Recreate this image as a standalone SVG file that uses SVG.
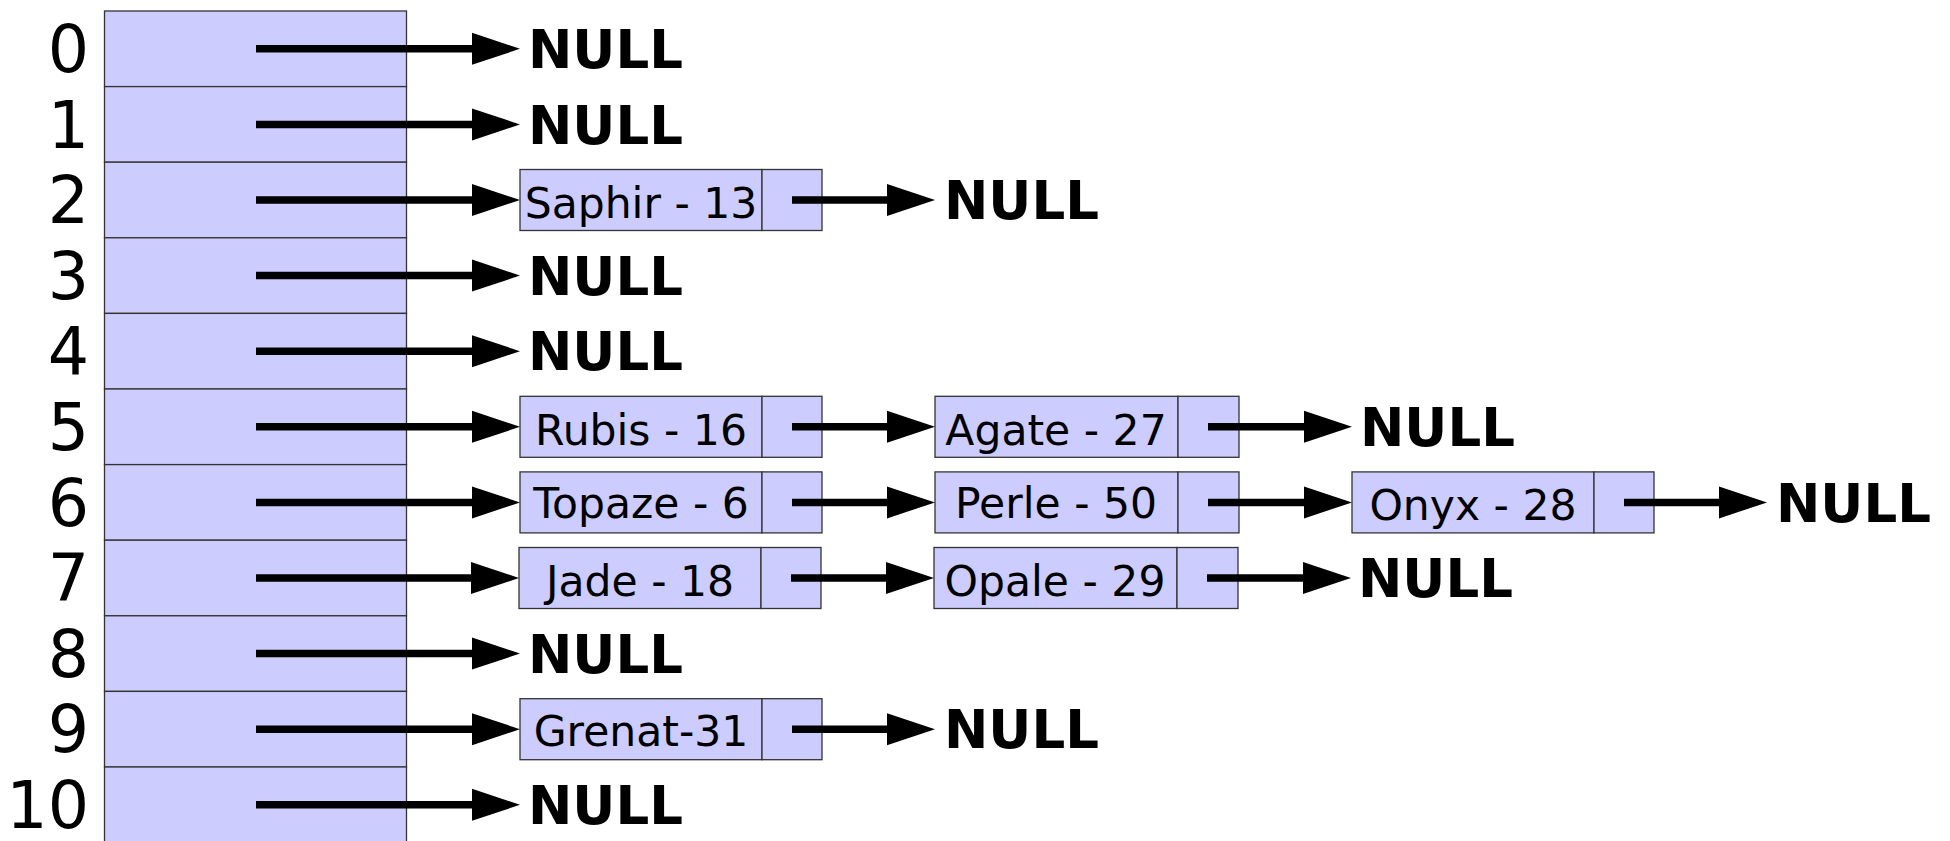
<svg xmlns="http://www.w3.org/2000/svg" width="1950" height="841" viewBox="0 0 1950 841">
<style>
.cell{fill:#ccccff;stroke:#333;stroke-width:1.3}
.idx{font-family:"DejaVu Sans","Liberation Sans",sans-serif;font-size:65px;text-anchor:end;fill:#000}
.null{font-family:"DejaVu Sans","Liberation Sans",sans-serif;font-size:53px;font-weight:bold;fill:#000}
.lbl{font-family:"DejaVu Sans","Liberation Sans",sans-serif;font-size:42.5px;text-anchor:middle;fill:#000}
.ar{stroke:#000;stroke-width:7.5;fill:none;marker-end:url(#ah)}
</style>
<defs>
<marker id="ah" markerUnits="userSpaceOnUse" markerWidth="50" markerHeight="34" refX="3" refY="16" orient="auto" overflow="visible">
<path d="M0,0 L48,16 L0,32 Z" fill="#000"/>
</marker>
</defs>
<rect width="1950" height="841" fill="#fff"/>
<g id="table">
<rect class="cell" x="104.5" y="11" width="302" height="75.6"/>
<rect class="cell" x="104.5" y="86.6" width="302" height="75.6"/>
<rect class="cell" x="104.5" y="162.2" width="302" height="75.6"/>
<rect class="cell" x="104.5" y="237.8" width="302" height="75.6"/>
<rect class="cell" x="104.5" y="313.4" width="302" height="75.6"/>
<rect class="cell" x="104.5" y="389" width="302" height="75.6"/>
<rect class="cell" x="104.5" y="464.6" width="302" height="75.6"/>
<rect class="cell" x="104.5" y="540.2" width="302" height="75.6"/>
<rect class="cell" x="104.5" y="615.8" width="302" height="75.6"/>
<rect class="cell" x="104.5" y="691.4" width="302" height="75.6"/>
<rect class="cell" x="104.5" y="767" width="302" height="80"/>
</g>
<g id="indices">
<text class="idx" x="89" y="72">0</text>
<text class="idx" x="89" y="147.6">1</text>
<text class="idx" x="89" y="223.2">2</text>
<text class="idx" x="89" y="298.8">3</text>
<text class="idx" x="89" y="374.4">4</text>
<text class="idx" x="89" y="450">5</text>
<text class="idx" x="89" y="525.6">6</text>
<text class="idx" x="89" y="601.2">7</text>
<text class="idx" x="89" y="676.8">8</text>
<text class="idx" x="89" y="752.4">9</text>
<text class="idx" x="89" y="828">10</text>
</g>
<g id="node-saphir">
<rect class="cell" x="520" y="169.5" width="242" height="61"/>
<rect class="cell" x="762" y="169.5" width="60" height="61"/>
<text class="lbl" x="641" y="218">Saphir - 13</text>
</g>
<g id="node-rubis">
<rect class="cell" x="520" y="396.3" width="242" height="61"/>
<rect class="cell" x="762" y="396.3" width="60" height="61"/>
<text class="lbl" x="641" y="445">Rubis - 16</text>
</g>
<g id="node-agate">
<rect class="cell" x="935" y="396.3" width="243" height="61"/>
<rect class="cell" x="1178" y="396.3" width="61" height="61"/>
<text class="lbl" x="1056" y="445">Agate - 27</text>
</g>
<g id="node-topaze">
<rect class="cell" x="520" y="471.9" width="242" height="61"/>
<rect class="cell" x="762" y="471.9" width="60" height="61"/>
<text class="lbl" x="641" y="518">Topaze - 6</text>
</g>
<g id="node-perle">
<rect class="cell" x="935" y="471.9" width="243" height="61"/>
<rect class="cell" x="1178" y="471.9" width="61" height="61"/>
<text class="lbl" x="1056" y="518">Perle - 50</text>
</g>
<g id="node-onyx">
<rect class="cell" x="1352" y="471.9" width="242" height="61"/>
<rect class="cell" x="1594" y="471.9" width="60" height="61"/>
<text class="lbl" x="1473" y="520">Onyx - 28</text>
</g>
<g id="node-jade">
<rect class="cell" x="519" y="547.5" width="242" height="61"/>
<rect class="cell" x="761" y="547.5" width="60" height="61"/>
<text class="lbl" x="640" y="596">Jade - 18</text>
</g>
<g id="node-opale">
<rect class="cell" x="934" y="547.5" width="243" height="61"/>
<rect class="cell" x="1177" y="547.5" width="61" height="61"/>
<text class="lbl" x="1055" y="596">Opale - 29</text>
</g>
<g id="node-grenat">
<rect class="cell" x="520" y="698.7" width="242" height="61"/>
<rect class="cell" x="762" y="698.7" width="60" height="61"/>
<text class="lbl" x="641" y="746">Grenat-31</text>
</g>
<g id="nulls">
<text class="null" x="528" y="68">NULL</text>
<text class="null" x="528" y="143.6">NULL</text>
<text class="null" x="944" y="219.2">NULL</text>
<text class="null" x="528" y="294.8">NULL</text>
<text class="null" x="528" y="370.4">NULL</text>
<text class="null" x="1360" y="446">NULL</text>
<text class="null" x="1776" y="521.6">NULL</text>
<text class="null" x="1358" y="597.2">NULL</text>
<text class="null" x="528" y="672.8">NULL</text>
<text class="null" x="944" y="748.4">NULL</text>
<text class="null" x="528" y="824">NULL</text>
</g>
<g id="connectors">
<line class="ar" x1="256" y1="48.8" x2="475" y2="48.8"/>
<line class="ar" x1="256" y1="124.4" x2="475" y2="124.4"/>
<line class="ar" x1="256" y1="200" x2="475" y2="200"/>
<line class="ar" x1="256" y1="275.6" x2="475" y2="275.6"/>
<line class="ar" x1="256" y1="351.2" x2="475" y2="351.2"/>
<line class="ar" x1="256" y1="426.8" x2="475" y2="426.8"/>
<line class="ar" x1="256" y1="502.4" x2="475" y2="502.4"/>
<line class="ar" x1="256" y1="578" x2="474" y2="578"/>
<line class="ar" x1="256" y1="653.6" x2="475" y2="653.6"/>
<line class="ar" x1="256" y1="729.2" x2="475" y2="729.2"/>
<line class="ar" x1="256" y1="804.8" x2="475" y2="804.8"/>
<line class="ar" x1="792" y1="200" x2="890" y2="200"/>
<line class="ar" x1="792" y1="426.8" x2="890" y2="426.8"/>
<line class="ar" x1="1208" y1="426.8" x2="1307" y2="426.8"/>
<line class="ar" x1="792" y1="502.4" x2="890" y2="502.4"/>
<line class="ar" x1="1208" y1="502.4" x2="1307" y2="502.4"/>
<line class="ar" x1="1624" y1="502.4" x2="1722" y2="502.4"/>
<line class="ar" x1="791" y1="578" x2="889" y2="578"/>
<line class="ar" x1="1207" y1="578" x2="1306" y2="578"/>
<line class="ar" x1="792" y1="729.2" x2="890" y2="729.2"/>
</g>
</svg>
